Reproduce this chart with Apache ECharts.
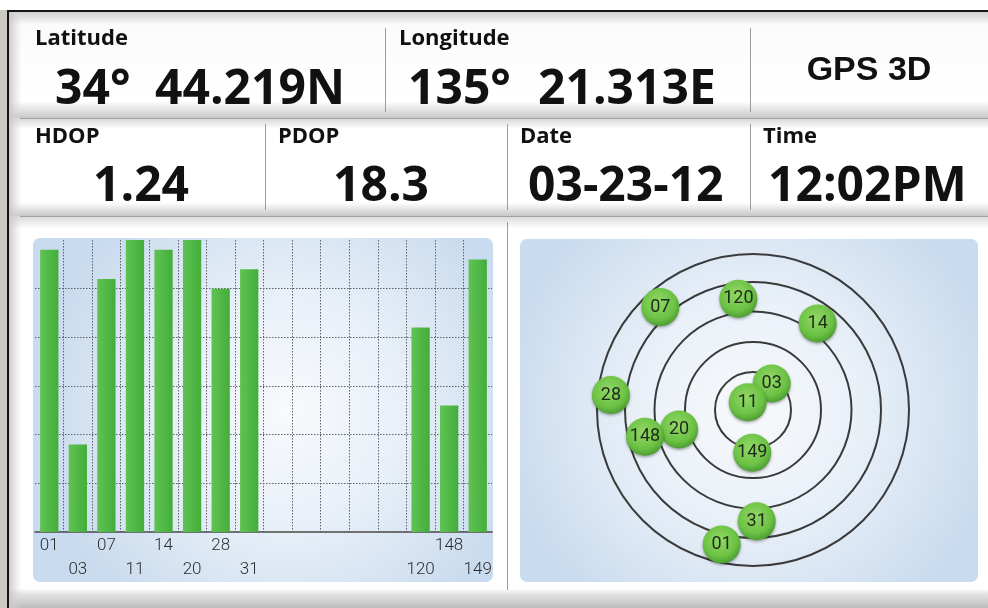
<!DOCTYPE html>
<html>
<head>
<meta charset="utf-8">
<title>GPS Status</title>
<script src="https://cdn.jsdelivr.net/npm/echarts@6/dist/echarts.min.js"></script>
<style>
  html, body { margin: 0; padding: 0; background: #ffffff; }
  #chart { width: 988px; height: 608px; }
</style>
</head>
<body>
<div id="chart"></div>
<script>
// Position fix readout
const latitude = ['34°', '44.219N'];
const longitude = ['135°', '21.313E'];
const fixStatus = 'GPS 3D';
const hdop = '1.24';
const pdop = '18.3';
const fixDate = '03-23-12';
const fixTime = '12:02PM';

// Signal strength per receiver channel (empty channels have no satellite)
const channelIds = ['01', '03', '07', '11', '14', '20', '28', '31', '', '', '', '', '', '120', '148', '149'];
const signalLevels = [58, 18, 52, 60, 58, 60, 50, 54, null, null, null, null, null, 42, 26, 56];

// Sky view: azimuth (deg, clockwise from north) and elevation (deg)
const skyIds       = ['07', '120', '14', '28', '20', '148', '149', '03', '11', '01', '31'];
const skyAzimuth   = [318, 352.5, 36.8, 276, 255.2, 256.1, 181, 35.2, 326, 193.1, 178.1];
const skyElevation = [10.1, 25.3, 27.7, 7.6, 45.9, 25.8, 65.3, 71.3, 84.6, 10.3, 25.8];

const chart = echarts.init(document.getElementById('chart'), null, { renderer: 'canvas' });

const LABEL_FONT = 'bold 22px "Open Sans"';
const VALUE_FONT = 'bold 48px "Open Sans"';
const INK = '#111111';

function vGrad(stops) {
  return new echarts.graphic.LinearGradient(0, 0, 0, 1, stops.map(s => ({ offset: s[0], color: s[1] })));
}
function text(str, x, y, font, align) {
  return { type: 'text', z: 1, style: { text: str, x: x, y: y, font: font, fill: INK, textAlign: align || 'left', textVerticalAlign: 'middle' } };
}
function rule(x1, y1, x2, y2, color) {
  return { type: 'line', z: 1, shape: { x1: x1, y1: y1, x2: x2, y2: y2 }, style: { stroke: color || '#9c9c9c', lineWidth: 1 } };
}
function panel(x, y, w, h, cx, cy) {
  return {
    type: 'rect', z: 0,
    shape: { x: x, y: y, width: w, height: h, r: 7 },
    style: {
      fill: new echarts.graphic.RadialGradient(cx, cy, 0.72, [
        { offset: 0, color: '#f8fafc' },
        { offset: 0.45, color: '#e9f0f8' },
        { offset: 1, color: '#c9dbee' }
      ])
    }
  };
}

const frame = [
  { type: 'rect', z: 0, shape: { x: 0, y: 0, width: 988, height: 608 }, style: { fill: '#ffffff' } },
  { type: 'rect', z: 0, shape: { x: 0, y: 10, width: 8, height: 598 }, style: { fill: '#ccc8c3' } },
  { type: 'rect', z: 0, shape: { x: 7, y: 10, width: 981, height: 598 }, style: { fill: '#141414' } },
  { type: 'rect', z: 0, shape: { x: 9, y: 12, width: 979, height: 596 }, style: { fill: '#dcdcdc' } },
  // header row 1
  { type: 'rect', z: 0, shape: { x: 9, y: 12, width: 979, height: 106 },
    style: { fill: vGrad([[0, '#d0d0d0'], [0.12, '#fbfbfb'], [0.84, '#ffffff'], [1, '#c8c8c8']]) } },
  // header row 2
  { type: 'rect', z: 0, shape: { x: 9, y: 119, width: 979, height: 97 },
    style: { fill: vGrad([[0, '#dadada'], [0.1, '#ffffff'], [0.86, '#ffffff'], [1, '#c8c8c8']]) } },
  // chart area
  { type: 'rect', z: 0, shape: { x: 9, y: 217, width: 979, height: 391 },
    style: { fill: vGrad([[0, '#dcdcdc'], [0.03, '#ffffff'], [0.95, '#ffffff'], [0.965, '#e2e2e2'], [1, '#bcbcbc']]) } },
  // left edge shading
  { type: 'rect', z: 0, shape: { x: 9, y: 12, width: 13, height: 596 },
    style: { fill: new echarts.graphic.LinearGradient(0, 0, 1, 0, [
      { offset: 0, color: 'rgba(200,200,200,0.95)' }, { offset: 1, color: 'rgba(220,220,220,0)' }]) } },
  rule(20, 118.5, 988, 118.5, '#a2a2a2'),
  rule(20, 216.5, 988, 216.5, '#a2a2a2'),
  rule(385.5, 28, 385.5, 112),
  rule(750.5, 28, 750.5, 112),
  rule(265.5, 124, 265.5, 210),
  rule(507.5, 124, 507.5, 210),
  rule(750.5, 124, 750.5, 210),
  rule(507.5, 222, 507.5, 590),
  panel(33, 238, 460, 344, 0.55, 0.5),
  panel(520, 239, 458, 343, 0.5, 0.5),
  // readout texts
  text('Latitude', 35, 39, LABEL_FONT),
  text(latitude[0], 55, 90, VALUE_FONT),
  text(latitude[1], 155, 90, VALUE_FONT),
  text('Longitude', 399, 39, LABEL_FONT),
  text(longitude[0], 408, 90, VALUE_FONT),
  text(longitude[1], 538, 90, VALUE_FONT),
  text(fixStatus, 869, 71, 'bold 34px "Liberation Sans"', 'center'),
  text('HDOP', 35, 136.5, LABEL_FONT),
  text('PDOP', 278, 136.5, LABEL_FONT),
  text('Date', 520, 136.5, LABEL_FONT),
  text('Time', 763, 136.5, LABEL_FONT),
  text(hdop, 93, 187, VALUE_FONT),
  text(pdop, 333, 187, VALUE_FONT),
  text(fixDate, 528, 187, VALUE_FONT),
  text(fixTime, 768, 187, VALUE_FONT)
];

// Sky view rings: one polar per ring, its outer circle drawn by the angle axis line
const RING_CENTER = [753, 410];
const ringRadii = [38, 68, 98.5, 128, 156];
const polars = ringRadii.map(r => ({ center: RING_CENTER, radius: r }));
const angleAxes = ringRadii.map((r, i) => ({
  polarIndex: i, type: 'value', min: 0, max: 360, startAngle: 90, clockwise: true,
  axisLine: { show: true, lineStyle: { color: '#3a3a3a', width: 2 } },
  axisTick: { show: false }, axisLabel: { show: false }, splitLine: { show: false }
}));
const radiusAxes = ringRadii.map((r, i) => ({
  polarIndex: i, type: 'value', min: 0, max: 90, show: false,
  axisLine: { show: false }, axisTick: { show: false }, axisLabel: { show: false }, splitLine: { show: false }
}));

const GRID_DOT = '#5c636b';
const CLEAR = 'rgba(0,0,0,0)';
const vLineColors = [CLEAR].concat(new Array(channelIds.length - 1).fill(GRID_DOT), [CLEAR]);
const hLineColors = [CLEAR, GRID_DOT, GRID_DOT, GRID_DOT, GRID_DOT, GRID_DOT, CLEAR];

const option = {
  animation: false,
  backgroundColor: '#ffffff',
  graphic: { elements: frame },
  grid: { left: 35, top: 240, width: 457, height: 292, containLabel: false },
  xAxis: {
    type: 'category',
    data: channelIds,
    boundaryGap: true,
    axisLine: { lineStyle: { color: '#4a4a4a', width: 1.5 } },
    axisTick: { show: false },
    axisLabel: {
      interval: 0,
      margin: 2,
      color: '#2e2e2e',
      fontFamily: 'Roboto',
      fontWeight: 300,
      fontSize: 17,
      lineHeight: 24,
      formatter: (v, i) => (i % 2 ? '\n' + v : v)
    },
    splitLine: { show: true, interval: 0, lineStyle: { color: vLineColors, type: [1.5, 1.5], width: 1 } }
  },
  yAxis: {
    type: 'value', min: 0, max: 60, interval: 10,
    axisLine: { show: false }, axisTick: { show: false }, axisLabel: { show: false },
    splitLine: { show: true, lineStyle: { color: hLineColors, type: [1.5, 1.5], width: 1 } }
  },
  polar: polars,
  angleAxis: angleAxes,
  radiusAxis: radiusAxes,
  series: [
    {
      type: 'bar',
      data: signalLevels,
      barWidth: '64%',
      itemStyle: {
        color: new echarts.graphic.LinearGradient(0, 0, 1, 0, [
          { offset: 0, color: '#5fc352' }, { offset: 1, color: '#43ad3b' }])
      }
    },
    {
      type: 'scatter',
      coordinateSystem: 'polar',
      polarIndex: ringRadii.length - 1,
      symbol: 'circle',
      symbolSize: 38,
      z: 5,
      data: skyIds.map((id, i) => ({ name: id, value: [90 - skyElevation[i], skyAzimuth[i]] })),
      itemStyle: {
        color: new echarts.graphic.RadialGradient(0.45, 0.38, 0.62, [
          { offset: 0, color: '#93d868' },
          { offset: 0.7, color: '#6cc244' },
          { offset: 1, color: '#4d9e34' }
        ]),
        opacity: 1,
        shadowBlur: 3,
        shadowOffsetY: 1.5,
        shadowColor: 'rgba(0,0,0,0.35)'
      },
      label: {
        show: true,
        position: 'inside',
        formatter: p => p.name,
        color: '#1f2a1a',
        fontFamily: 'Roboto',
        fontSize: 18
      }
    }
  ]
};

chart.setOption(option);
</script>
</body>
</html>
